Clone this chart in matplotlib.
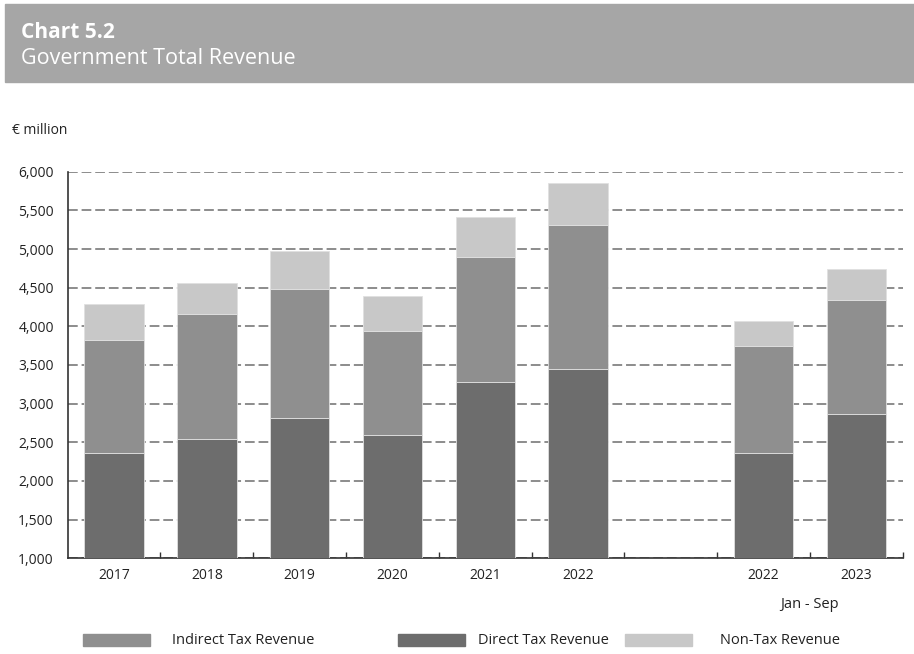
import matplotlib
matplotlib.use("Agg")
import matplotlib.pyplot as plt
from matplotlib.patches import Rectangle

plt.rcParams["font.family"] = ["Open Sans", "DejaVu Sans"]

# € million, annual and Jan-Sep figures
categories = ["2017", "2018", "2019", "2020", "2021", "2022", "", "2022", "2023"]
positions = [0, 1, 2, 3, 4, 5, 7, 8]
direct_tax = [2366, 2539, 2810, 2599, 3284, 3444, 2366, 2862]
indirect_tax = [1457, 1624, 1677, 1340, 1616, 1866, 1379, 1482]
non_tax = [466, 397, 491, 449, 514, 539, 328, 397]
y_ticks = [1000, 1500, 2000, 2500, 3000, 3500, 4000, 4500, 5000, 5500, 6000]
series_names = ["Indirect Tax Revenue", "Direct Tax Revenue", "Non-Tax Revenue"]

DIRECT = "#6d6d6d"
INDIRECT = "#8f8f8f"
NONTAX = "#c8c8c8"
EDGE = "#e0e0e0"
TEXT = "#222222"

W, H = 914, 654
fig = plt.figure(figsize=(W / 100, H / 100), dpi=100)
ax = fig.add_axes([0.0741, 0.1463, 0.9135, 0.5912])

# header banner
fig.patches.append(Rectangle((5 / W, 1 - 82 / H), 1, 78 / H,
                             transform=fig.transFigure, color="#a6a6a6", zorder=0))
fig.text(21 / W, 1 - 33 / H, "Chart 5.2", fontsize=15, fontweight="bold",
         color="white", va="center")
fig.text(21 / W, 1 - 58 / H, "Government Total Revenue", fontsize=15.5,
         color="white", va="center")
fig.text(12 / W, 1 - 130 / H, "€ million", fontsize=10, color=TEXT, va="center")

bottom_non = [d + i for d, i in zip(direct_tax, indirect_tax)]
width = 0.64
ax.bar(positions, [d - 1000 for d in direct_tax], width, bottom=1000, color=DIRECT,
       edgecolor=EDGE, linewidth=0.6, zorder=3)
ax.bar(positions, indirect_tax, width, bottom=direct_tax, color=INDIRECT,
       edgecolor=EDGE, linewidth=0.6, zorder=3)
ax.bar(positions, non_tax, width, bottom=bottom_non, color=NONTAX,
       edgecolor=EDGE, linewidth=0.6, zorder=3)

ax.set_xlim(-0.5, 8.5)
ax.set_ylim(1000, 6000)
ax.set_yticks(y_ticks)
ax.set_yticklabels([f"{v:,}" for v in y_ticks])
ax.yaxis.grid(True, color="#8c8c8c", linestyle=(0, (5, 2)), linewidth=1.4, zorder=0)
ax.set_axisbelow(True)

ax.set_xticks(range(len(categories)))
ax.set_xticklabels(categories)
ax.set_xticks([k + 0.5 for k in range(len(categories))], minor=True)
ax.tick_params(axis="x", which="major", length=0, pad=7, labelsize=10, labelcolor=TEXT)
ax.tick_params(axis="x", which="minor", direction="in", length=4, width=1, color="#333333")
ax.tick_params(axis="y", length=0, pad=10, labelsize=10, labelcolor=TEXT)

for side in ("top", "right"):
    ax.spines[side].set_visible(False)
for side in ("left", "bottom"):
    ax.spines[side].set_color("#333333")
    ax.spines[side].set_linewidth(1.2)

ax.text(7.5, -0.12, "Jan - Sep", transform=ax.get_xaxis_transform(), ha="center",
        va="center", fontsize=10.5, color=TEXT)

# legend row: swatch left edge and label left edge in pixels
legend_items = [(INDIRECT, 83, 172), (DIRECT, 398, 478), (NONTAX, 625, 720)]
for name, (color, px, tx) in zip(series_names, legend_items):
    fig.patches.append(Rectangle((px / W, 1 - 646 / H), 67 / W, 12 / H,
                                 transform=fig.transFigure, color=color))
    fig.text(tx / W, 1 - 640 / H, name, fontsize=10.5, color=TEXT, va="center")

fig.savefig("out.png", dpi=100, facecolor="white")
